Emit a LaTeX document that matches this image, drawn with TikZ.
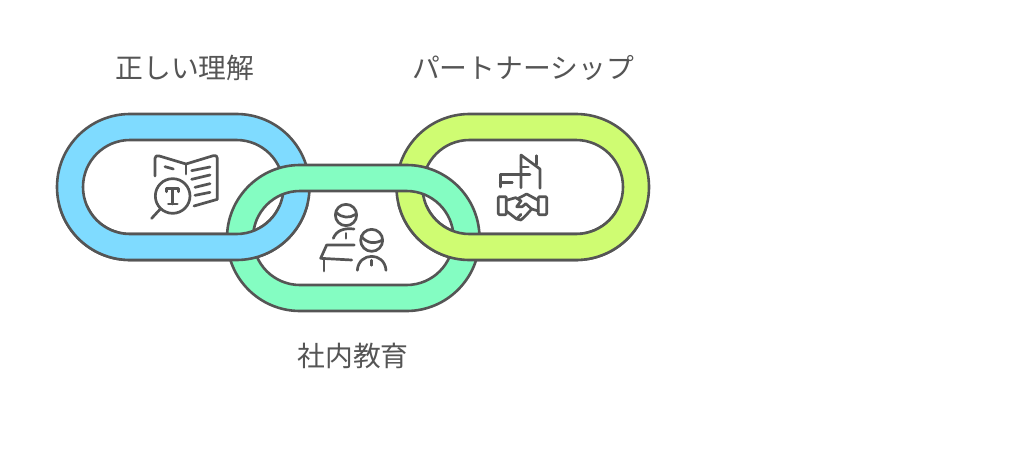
\documentclass[tikz,border=0pt]{standalone}
\usepackage{fontspec}
\setmainfont{Noto Sans CJK JP}
\definecolor{ringblue}{HTML}{7FDBFF}
\definecolor{ringgreen}{HTML}{84FDC2}
\definecolor{ringlime}{HTML}{CFFC72}
\definecolor{ink}{HTML}{555555}
\tikzset{
  ringpath/.style={draw=ink,line width=2.6pt,even odd rule},
  icon/.style={draw=ink,line width=2.7pt,line cap=round,line join=round,fill=none},
  caption/.style={text=ink,font=\fontsize{27.8}{32}\selectfont,inner sep=0pt},
}
% \ringshape{fill}{left}{top}: chain link of fixed size
\newcommand{\ringshape}[3]{%
  \path[ringpath,fill=#1]
    (#2+73,#3) -- (#2+179.5,#3) arc[start angle=90,end angle=-90,radius=73,y radius=-73] -- (#2+73,#3+146) arc[start angle=270,end angle=90,radius=73,y radius=-73] -- cycle
    (#2+73,#3+26) -- (#2+179.5,#3+26) arc[start angle=90,end angle=-90,radius=47,y radius=-47] -- (#2+73,#3+120) arc[start angle=270,end angle=90,radius=47,y radius=-47] -- cycle;
}
\begin{document}
\begin{tikzpicture}[x=1pt,y=-1pt]
\useasboundingbox (0,0) rectangle (1024,450);
\fill[white] (0,0) rectangle (1024,450);

\ringshape{ringblue}{57}{114}
\ringshape{ringlime}{396.5}{114}
\ringshape{ringgreen}{227}{165}
\begin{scope}
  \clip (40,205) rectangle (340,280);
  \ringshape{ringblue}{57}{114}
\end{scope}
\begin{scope}
  \clip (380,205) rectangle (670,280);
  \ringshape{ringlime}{396.5}{114}
\end{scope}

\node[caption] (t1) at (185,68) {正しい理解};
\node[caption] (t2) at (523,68) {パートナーシップ};
\node[caption] (t3) at (353,356) {社内教育};

% book icon
\begin{scope}[shift={(130,140)},x=0.3333pt,y=-0.3333pt]
  \draw[icon] (75,108) -- (75,55) .. controls (75,48) and (80,46) .. (88,48) -- (168,72) -- (250,47) .. controls (258,45) and (262,48) .. (262,55) -- (262,178) -- (192,198);
  \draw[icon] (168,72) -- (168,102);
  \draw[icon] (105,80) -- (130,87);
  \draw[icon] (185,92) -- (240,81);
  \draw[icon] (185,118) -- (240,105);
  \draw[icon] (195,142) -- (240,131);
  \draw[icon] (195,166) -- (240,157);
  \draw[icon] (128,168) circle[radius=52];
  \draw[icon] (110,155) -- (110,146) -- (146,146) -- (146,155);
  \draw[icon] (128,146) -- (128,192);
  \draw[icon] (115,192) -- (142,192);
  \draw[icon] (65,235) -- (90,208);
\end{scope}

% people icon
\begin{scope}[shift={(310,195)},x=0.3333pt,y=-0.3333pt]
  \draw[icon] (108,60) circle[radius=32];
  \draw[icon] (79,52) .. controls (95,70) and (120,70) .. (137,58);
  \draw[icon] (70,130) .. controls (78,108) and (100,98) .. (132,102);
  \draw[icon] (108,115) -- (108,130);
  \draw[icon] (133,150) -- (50,150) -- (32,190) -- (125,195);
  \draw[icon] (42,195) -- (42,228);
  \draw[icon] (185,136) circle[radius=33];
  \draw[icon] (155,125) .. controls (170,145) and (195,148) .. (217,135);
  \draw[icon] (142,226) .. controls (146,170) and (224,170) .. (228,226);
  \draw[icon] (185,196) -- (185,211);
\end{scope}

% handshake icon
\begin{scope}[shift={(485,145)},x=0.3333pt,y=-0.3333pt]
  \draw[icon] (108,128) -- (108,30) -- (165,72) -- (165,130);
  \draw[icon] (155,58) -- (155,32);
  \draw[icon] (46,126) -- (46,88) -- (135,88);
  \draw[icon] (46,112) -- (82,112);
  \draw[icon] (108,66) -- (130,66);
  \draw[icon,rounded corners=1pt] (40,155) rectangle (64,209);
  \draw[icon,rounded corners=1pt] (160,155) rectangle (185,209);
  \draw[icon] (64,166) -- (92,158) -- (108,168) -- (95,185) -- (112,185) -- (122,176) -- (140,192) -- (122,212) -- (108,225) -- (95,222) -- (64,198);
  \draw[icon] (100,160) -- (125,147) -- (160,166);
  \draw[icon] (140,192) -- (160,198);
  \draw[icon] (95,222) -- (108,208);
\end{scope}
\end{tikzpicture}
\end{document}
